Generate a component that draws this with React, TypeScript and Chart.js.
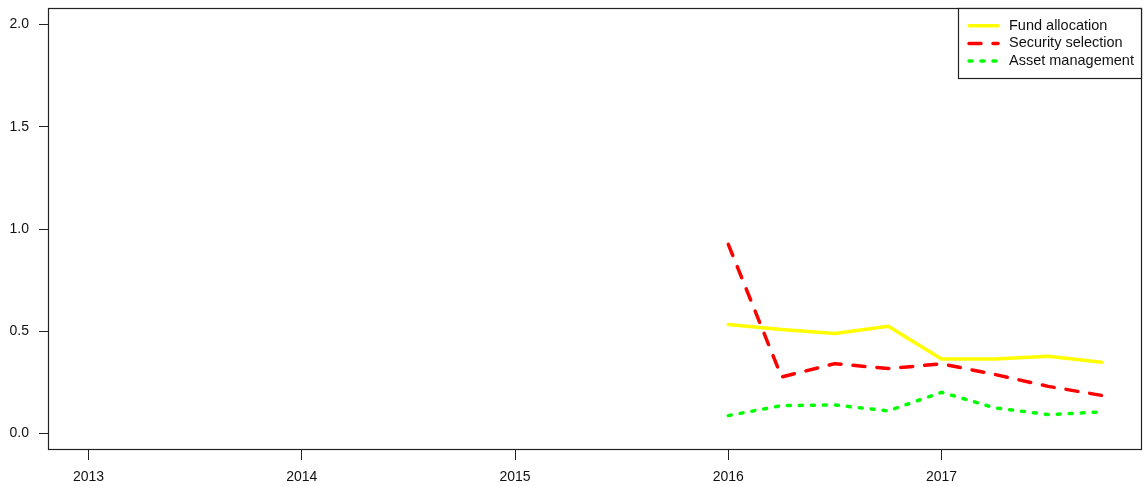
import React, { useEffect, useRef } from "react";
import { Chart, registerables } from "chart.js";
Chart.register(...registerables);

const quarters = [2016, 2016.25, 2016.5, 2016.75, 2017, 2017.25, 2017.5, 2017.75];
const fundAllocation = [0.533, 0.509, 0.489, 0.525, 0.365, 0.365, 0.378, 0.349];
const securitySelection = [0.925, 0.277, 0.342, 0.318, 0.341, 0.289, 0.231, 0.187];
const assetManagement = [0.088, 0.137, 0.14, 0.111, 0.202, 0.126, 0.093, 0.106];
const xTicks = [2013, 2014, 2015, 2016, 2017];
const yTicks = [0, 0.5, 1, 1.5, 2];
const seriesLabels = ["Fund allocation", "Security selection", "Asset management"];
const seriesColors = ["#FFFF00", "#FF0000", "#00FF00"];

const FONT = "'Liberation Sans', Arial, Helvetica, sans-serif";
const AXIS_COLOR = "#222";

const boxAndLegend = {
  id: "boxAndLegend",
  afterDraw(chart: any) {
    const { ctx, chartArea } = chart;
    ctx.save();
    ctx.strokeStyle = AXIS_COLOR;
    ctx.lineWidth = 1.2;
    ctx.setLineDash([]);
    const l = Math.round(chartArea.left) + 0.5;
    const t = Math.round(chartArea.top) + 0.5;
    const r = Math.round(chartArea.right) - 0.5;
    const b = Math.round(chartArea.bottom) - 0.5;
    ctx.strokeRect(l, t, r - l, b - t);

    // legend box (top-right)
    const lx = 958.5;
    const ly = t;
    const lw = r - lx;
    const lh = 70;
    ctx.fillStyle = "#fff";
    ctx.fillRect(lx, ly, lw, lh);
    ctx.strokeRect(lx, ly, lw, lh);
    chart.data.datasets.forEach((ds: any, i: number) => {
      const y = 25.7 + i * 17.7;
      ctx.beginPath();
      ctx.setLineDash(ds.borderDash || []);
      ctx.lineCap = "round";
      ctx.lineWidth = 3.5;
      ctx.strokeStyle = ds.borderColor;
      ctx.moveTo(969, y);
      ctx.lineTo(998, y);
      ctx.stroke();
      ctx.setLineDash([]);
      ctx.fillStyle = "#111";
      ctx.font = `14.5px ${FONT}`;
      ctx.textBaseline = "middle";
      ctx.textAlign = "left";
      ctx.fillText(ds.label, 1009, y);
    });
    ctx.restore();
  },
};

const zeroPad = (axis: any) => {
  axis.paddingTop = 0;
  axis.paddingBottom = 0;
  axis.paddingLeft = 0;
  axis.paddingRight = 0;
};

export default function App() {
  const ref = useRef<HTMLCanvasElement>(null);
  useEffect(() => {
    document.body.style.margin = "0";
    const mk = (vals: number[]) => quarters.map((x, i) => ({ x, y: vals[i] }));
    const common = {
      borderWidth: 3.5,
      borderCapStyle: "round",
      borderJoinStyle: "round",
      pointRadius: 0,
      fill: false,
    };
    const chart = new Chart(ref.current!, {
      type: "line",
      data: {
        datasets: [
          { ...common, label: seriesLabels[0], data: mk(fundAllocation), borderColor: seriesColors[0] },
          { ...common, label: seriesLabels[1], data: mk(securitySelection), borderColor: seriesColors[1], borderDash: [12, 12] },
          { ...common, label: seriesLabels[2], data: mk(assetManagement), borderColor: seriesColors[2], borderDash: [3, 9] },
        ] as any,
      },
      options: {
        animation: false,
        responsive: false,
        events: [],
        layout: { padding: { left: 0, top: 8, right: 2, bottom: 0 } },
        plugins: { legend: { display: false }, tooltip: { enabled: false } },
        scales: {
          x: {
            type: "linear",
            min: 2012.81,
            max: 2017.94,
            afterBuildTicks: (axis: any) => {
              axis.ticks = xTicks.map((v) => ({ value: v }));
            },
            afterFit: (axis: any) => {
              axis.height = 36;
              zeroPad(axis);
            },
            grid: {
              drawOnChartArea: false,
              drawTicks: true,
              tickLength: 10,
              color: AXIS_COLOR,
              lineWidth: 1,
            },
            border: { display: false },
            ticks: {
              padding: 9,
              color: "#111",
              font: { family: FONT, size: 14 },
              maxRotation: 0,
              autoSkip: false,
              callback: (v: any) => String(v),
            },
          },
          y: {
            type: "linear",
            min: -0.08,
            max: 2.08,
            afterBuildTicks: (axis: any) => {
              axis.ticks = yTicks.map((v) => ({ value: v }));
            },
            afterFit: (axis: any) => {
              axis.width = 48;
              zeroPad(axis);
            },
            grid: {
              drawOnChartArea: false,
              drawTicks: true,
              tickLength: 9,
              color: AXIS_COLOR,
              lineWidth: 1,
            },
            border: { display: false },
            ticks: {
              padding: 10,
              color: "#111",
              font: { family: FONT, size: 14 },
              autoSkip: false,
              callback: (v: any) => Number(v).toFixed(1),
            },
          },
        },
      },
      plugins: [boxAndLegend],
    });
    return () => chart.destroy();
  }, []);
  return (
    <div style={{ width: 1144, height: 486 }}>
      <canvas ref={ref} width={1144} height={486} />
    </div>
  );
}
